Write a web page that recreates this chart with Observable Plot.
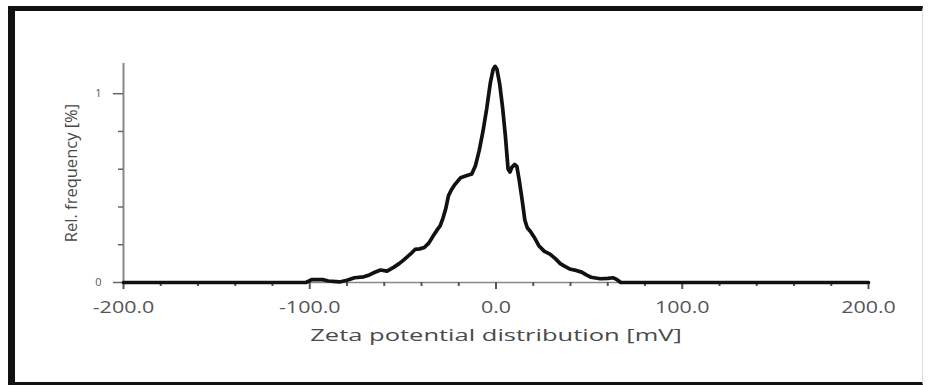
<!DOCTYPE html>
<html>
<head>
<meta charset="utf-8">
<script src="https://cdn.jsdelivr.net/npm/d3@7"></script>
<script src="https://cdn.jsdelivr.net/npm/@observablehq/plot@0.6"></script>
<style>
  html, body { margin: 0; padding: 0; background: #fff; }
  #wrap { position: relative; width: 932px; height: 385px; overflow: hidden; }
  #frame { position: absolute; left: 8px; top: 6px; height: 379px; width: 915px;
           border-left: 7px solid #111; border-top: 5px solid #111; border-bottom: 3px solid #111;
           border-right: 1px solid #ddd; pointer-events: none; box-sizing: border-box; }
  svg { font-family: "Open Sans", sans-serif; }
</style>
</head>
<body>
<div id="wrap"><div id="frame"></div></div>
<script>
// Zeta potential (mV) and relative frequency (%)
const zeta = [-200, -102, -99, -93, -90, -84, -80, -76, -71, -68, -66, -62, -58.5, -55, -52, -49.5, -46, -43.5, -41, -38.5, -36, -33.5, -31.5, -30, -28.5, -27, -25.5, -24, -22, -19, -16, -13, -11, -9, -7, -5, -3, -1.5, -0.5, 0.5, 2, 3.5, 5, 6.5, 7.5, 8.5, 10, 11.2, 12.5, 14, 15.5, 16.8, 18.5, 20.5, 23, 26, 29, 32, 34.5, 37, 40, 43, 46, 48.5, 51, 56, 60, 63, 65, 67, 200];
const freq = [0, 0, 0.015, 0.015, 0.008, 0.003, 0.012, 0.025, 0.03, 0.04, 0.05, 0.066, 0.06, 0.08, 0.1, 0.12, 0.15, 0.175, 0.178, 0.185, 0.21, 0.25, 0.28, 0.3, 0.34, 0.39, 0.46, 0.49, 0.52, 0.555, 0.565, 0.575, 0.62, 0.7, 0.8, 0.92, 1.06, 1.13, 1.145, 1.13, 1.05, 0.93, 0.78, 0.6, 0.585, 0.61, 0.625, 0.615, 0.54, 0.44, 0.33, 0.29, 0.27, 0.24, 0.195, 0.165, 0.15, 0.125, 0.1, 0.085, 0.07, 0.064, 0.055, 0.04, 0.028, 0.02, 0.022, 0.025, 0.015, 0, 0];

const xMajor = [-200, -100, 0, 100, 200];
const xMinor = [-180, -160, -140, -120, -80, -60, -40, -20, 20, 40, 60, 80, 120, 140, 160, 180];
const yMajor = [0, 1];
const yMinor = [0.2, 0.4, 0.6, 0.8];
const xTitle = "Zeta potential distribution [mV]";
const yTitle = "Rel. frequency [%]";
const fmtX = d => d.toFixed(1);

const data = zeta.map((z, i) => ({z, f: freq[i]}));

const chart = Plot.plot({
  width: 932,
  height: 385,
  marginLeft: 123,
  marginRight: 64,
  marginTop: 63,
  marginBottom: 103,
  style: {background: "transparent", fontFamily: "Open Sans, sans-serif"},
  x: {domain: [-200, 200]},
  y: {domain: [0, 1.16]},
  marks: [
    Plot.ruleX([-200], {y1: 0, y2: 1.16, stroke: "#888", strokeWidth: 2}),
    Plot.ruleY([0], {stroke: "#888", strokeWidth: 1.5}),
    Plot.axisX(xMinor, {tickSize: 4, text: null, stroke: "#555", strokeWidth: 2, label: null}),
    Plot.axisX(xMajor, {tickSize: 7, tickPadding: 12, stroke: "#555", strokeWidth: 2,
      tickFormat: fmtX, fontSize: 16, fill: "#555", label: null}),
    Plot.axisY(yMinor, {tickSize: 5, text: null, stroke: "#666", strokeWidth: 1.5, label: null}),
    Plot.axisY(yMajor, {tickSize: 10, tickPadding: 12, stroke: "#666", strokeWidth: 1.5,
      tickFormat: d => String(d), fontSize: 11, fill: "#555", label: null}),
    Plot.text([xTitle], {frameAnchor: "bottom", dy: 53, lineAnchor: "middle", textAnchor: "middle",
      fontSize: 17, fill: "#4a4a4a"}),
    Plot.text([yTitle], {frameAnchor: "left", dx: -52, rotate: -90, textAnchor: "middle", lineAnchor: "middle",
      fontSize: 16.5, fill: "#4a4a4a"}),
    Plot.line(data, {x: "z", y: "f", stroke: "#111", strokeWidth: 3.7, strokeLinejoin: "round"})
  ]
});
document.getElementById("wrap").prepend(chart);
// the reference's horizontal text is stretched wide
const tickStrings = new Set(xMajor.map(fmtX));
d3.select(chart).selectAll("text").each(function() {
  const t = this.textContent;
  let k = 0;
  if (t === xTitle) k = 1.5;
  else if (tickStrings.has(t)) k = 1.34;
  if (k) {
    const w = this.getComputedTextLength();
    d3.select(this).attr("textLength", w * k).attr("lengthAdjust", "spacingAndGlyphs");
  }
});
</script>
</body>
</html>
